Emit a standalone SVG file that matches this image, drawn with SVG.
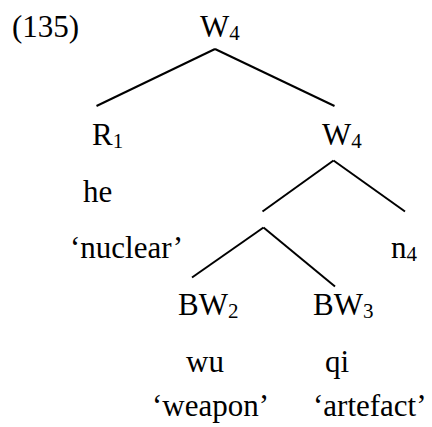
<svg xmlns="http://www.w3.org/2000/svg" width="432" height="427" viewBox="0 0 432 427">
<rect width="432" height="427" fill="#fff"/>
<g font-family="Liberation Serif, serif" font-size="31" fill="#000">
<text id="label" x="12" y="37" style="font-family:'Liberation Serif','Times New Roman',serif !important">(135)</text>
<g id="connectors" stroke="#000" stroke-width="2" fill="none">
<line x1="215" y1="49" x2="96.5" y2="106"/>
<line x1="215" y1="49" x2="334.5" y2="106"/>
<line x1="333.5" y1="160.5" x2="262.5" y2="211.5"/>
<line x1="333.5" y1="160.5" x2="405" y2="211.5"/>
<line x1="263.5" y1="227.5" x2="192" y2="277.5"/>
<line x1="263.5" y1="227.5" x2="335" y2="286.5"/>
</g>
<g id="n-W4-top"><text x="200" y="37" style="font-family:'Liberation Serif','Times New Roman',serif !important">W<tspan font-size="21" dy="3">4</tspan></text></g>
<g id="n-R1"><text x="92" y="145" style="font-family:'Liberation Serif','Times New Roman',serif !important">R<tspan font-size="21" dy="3">1</tspan></text>
<text x="83" y="202" style="font-family:'Liberation Serif','Times New Roman',serif !important">he</text>
<text x="70" y="258" style="font-family:'Liberation Serif','Times New Roman',serif !important">&#8216;nuclear&#8217;</text></g>
<g id="n-W4-right"><text x="322" y="145" style="font-family:'Liberation Serif','Times New Roman',serif !important">W<tspan font-size="21" dy="3">4</tspan></text></g>
<g id="n-n4"><text x="391" y="258" style="font-family:'Liberation Serif','Times New Roman',serif !important">n<tspan font-size="21" dy="3">4</tspan></text></g>
<g id="n-BW2"><text x="178" y="315" style="font-family:'Liberation Serif','Times New Roman',serif !important">BW<tspan font-size="21" dy="3">2</tspan></text>
<text x="186" y="372" style="font-family:'Liberation Serif','Times New Roman',serif !important">wu</text>
<text x="152" y="416" style="font-family:'Liberation Serif','Times New Roman',serif !important">&#8216;weapon&#8217;</text></g>
<g id="n-BW3"><text x="313" y="315" style="font-family:'Liberation Serif','Times New Roman',serif !important">BW<tspan font-size="21" dy="3">3</tspan></text>
<text x="325" y="372" style="font-family:'Liberation Serif','Times New Roman',serif !important">qi</text>
<text x="313" y="416" style="font-family:'Liberation Serif','Times New Roman',serif !important">&#8216;artefact&#8217;</text></g>
</g>
</svg>
